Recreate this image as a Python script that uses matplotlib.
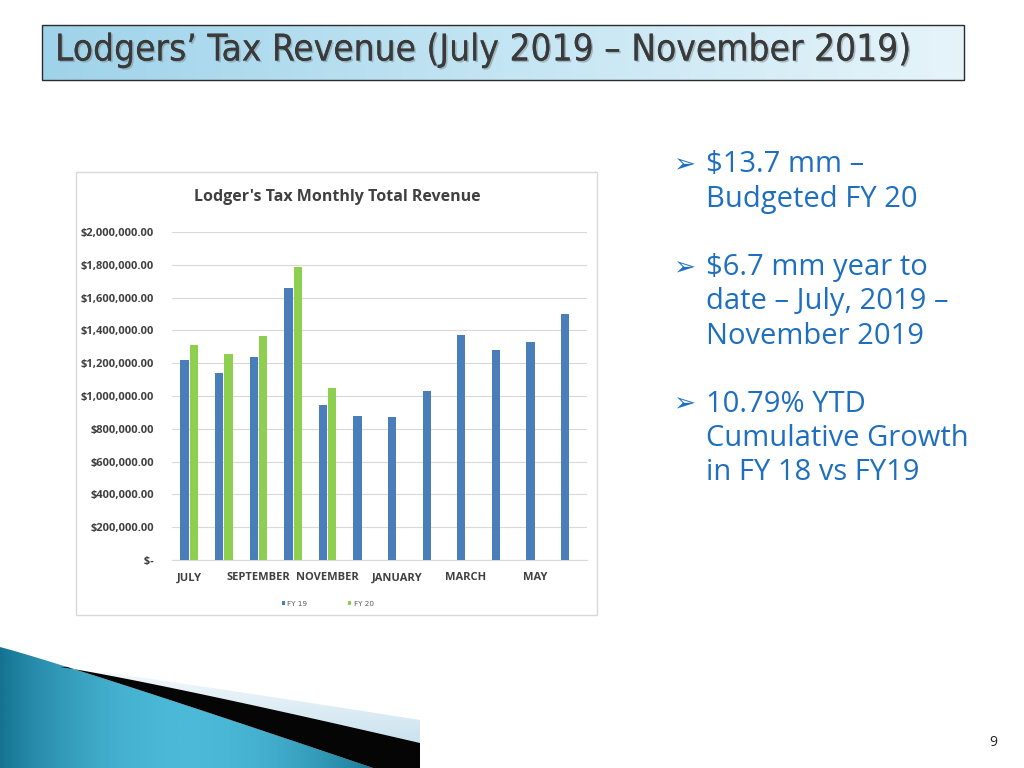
import numpy as np
import matplotlib.pyplot as plt
from matplotlib.patches import Rectangle, Polygon
from matplotlib.colors import LinearSegmentedColormap
from matplotlib.ticker import FuncFormatter
import matplotlib.patheffects as pe

months = ["JULY", "AUGUST", "SEPTEMBER", "OCTOBER", "NOVEMBER", "DECEMBER",
          "JANUARY", "FEBRUARY", "MARCH", "APRIL", "MAY", "JUNE"]
fy19 = [1217000, 1139000, 1237000, 1660000, 944000, 879000,
        869000, 1032000, 1373000, 1278000, 1327000, 1500000]
fy20 = [1312000, 1255000, 1363000, 1784000, 1048000]
bullets = [["$13.7 mm \u2013", "Budgeted FY 20"],
           ["$6.7 mm year to", "date \u2013 July, 2019 \u2013", "November 2019"],
           ["10.79% YTD", "Cumulative Growth", "in FY 18 vs FY19"]]

fig = plt.figure(figsize=(10.24, 7.68), dpi=100)

# slide background layer in pixel coords
bg = fig.add_axes([0, 0, 1, 1])
bg.set_xlim(0, 1024)
bg.set_ylim(768, 0)
bg.axis("off")

# title box with gradient
grad = np.linspace(0, 1, 256).reshape(1, -1)
bg.imshow(grad, extent=[42, 964, 80, 25], aspect="auto", zorder=1,
          cmap=LinearSegmentedColormap.from_list("t", ["#9fd3ea", "#c4e5f3", "#e6f4fa"]))
bg.add_patch(Rectangle((42, 25), 922, 55, facecolor="none", edgecolor="#2b2b2b", lw=1.0, zorder=2))
bg.text(55, 50, "Lodgers\u2019 Tax Revenue (July 2019 \u2013 November 2019)", fontsize=26.5,
        family="DejaVu Sans", fontstretch="condensed", color="#3a3a3a", va="center", ha="left", zorder=3,
        path_effects=[pe.withSimplePatchShadow(offset=(1.2, -1.2), shadow_rgbFace="#7a8a90", alpha=0.5),
                      pe.Normal()])

# chart frame
bg.add_patch(Rectangle((76, 172), 521, 443, facecolor="white", edgecolor="#d9d9d9", lw=1.0, zorder=1))
bg.text(337, 197, "Lodger's Tax Monthly Total Revenue", fontsize=11.5, fontweight="bold",
        family="Open Sans", color="#404040", ha="center", va="center")

# bullets
ys = [165, 268, 404]
for y0, lines in zip(ys, bullets):
    bg.text(673, y0, "\u27a2", fontsize=19, family="DejaVu Sans", color="#1f6fc0", va="center")
    for i, line in enumerate(lines):
        bg.text(706, y0 + i * 34, line, fontsize=21, family="Open Sans", color="#1f6fc0", va="center")

bg.text(993, 742, "9", fontsize=10, family="Open Sans", color="#222222", ha="center", va="center")

# bottom-left decoration
tx = np.linspace(0, 373, 40)
top_teal = 647 + (768 - 647) * (tx / 373) ** 1.05
teal_poly = Polygon(np.column_stack([np.r_[tx, 0], np.r_[top_teal, 768]]), closed=True,
                    facecolor="none", edgecolor="none")
bg.add_patch(teal_poly)
tg = np.sin(np.linspace(0, 1, 256) * np.pi) ** 0.8
timg = bg.imshow(tg.reshape(1, -1), extent=[0, 380, 768, 640], aspect="auto", zorder=1,
                 cmap=LinearSegmentedColormap.from_list("teal", ["#13728f", "#4cb9d9"]))
timg.set_clip_path(teal_poly)
bx = np.linspace(60, 420, 40)
black_top = 667 + (743 - 667) * ((bx - 60) / 360) ** 1.1
keep = tx[::-1] >= 60
bg.add_patch(Polygon(np.column_stack([np.r_[bx, 420, 373, tx[::-1][keep]],
                                      np.r_[black_top, 768, 768, top_teal[::-1][keep]]]),
                     closed=True, facecolor="#050505", edgecolor="none", zorder=2))
lx = np.linspace(100, 420, 40)
light_top = 672 + (720 - 672) * ((lx - 100) / 320) ** 1.05
lb_bottom = 667 + (743 - 667) * ((lx - 60) / 360) ** 1.1
light_poly = Polygon(np.column_stack([np.r_[lx, lx[::-1]], np.r_[light_top, lb_bottom[::-1]]]),
                     closed=True, facecolor="none", edgecolor="none")
bg.add_patch(light_poly)
limg = bg.imshow(np.linspace(0, 1, 64).reshape(-1, 1), extent=[100, 420, 745, 668], aspect="auto",
                 zorder=1.5, cmap=LinearSegmentedColormap.from_list("lb", ["#f4f9fc", "#c9e2ee"]))
limg.set_clip_path(light_poly)

# bar chart
ax = fig.add_axes([172 / 1024, (768 - 560) / 768, 415 / 1024, (560 - 232) / 768])
ax.set_facecolor("none")
x = np.arange(len(months))
w = 0.24
ax.bar(x[:len(fy19)] - 0.135, fy19, w, color="#4a7ebb", label="FY 19", zorder=3)
ax.bar(x[:len(fy20)] + 0.135, fy20, w, color="#8fcf4f", label="FY 20", zorder=3)
ax.set_xlim(-0.5, len(months) - 0.5)
ax.set_ylim(0, 2000000)
ax.set_yticks(np.arange(0, 2000001, 200000))
ax.yaxis.set_major_formatter(FuncFormatter(lambda v, p: " $-" if v == 0 else f"${v:,.2f}"))
ax.set_xticks(x[::2])
ax.set_xticklabels(months[::2])
ax.grid(axis="y", color="#d9d9d9", lw=0.8, zorder=0)
for s in ["top", "right", "left"]:
    ax.spines[s].set_visible(False)
ax.spines["bottom"].set_color("#d9d9d9")
ax.tick_params(length=0)
for lab in ax.get_yticklabels() + ax.get_xticklabels():
    lab.set_fontsize(8)
    lab.set_fontweight("bold")
    lab.set_family("Open Sans")
    lab.set_color("#404040")
ax.tick_params(axis="y", pad=13)
ax.tick_params(axis="x", pad=9)
leg = ax.legend(loc="upper center", bbox_to_anchor=(0.375, -0.105), ncol=2, frameon=False,
                fontsize=5.2, handlelength=0.5, handleheight=0.5, columnspacing=5.6, handletextpad=0.3)
for t in leg.get_texts():
    t.set_color("#595959")

fig.savefig("out.png", dpi=100)
